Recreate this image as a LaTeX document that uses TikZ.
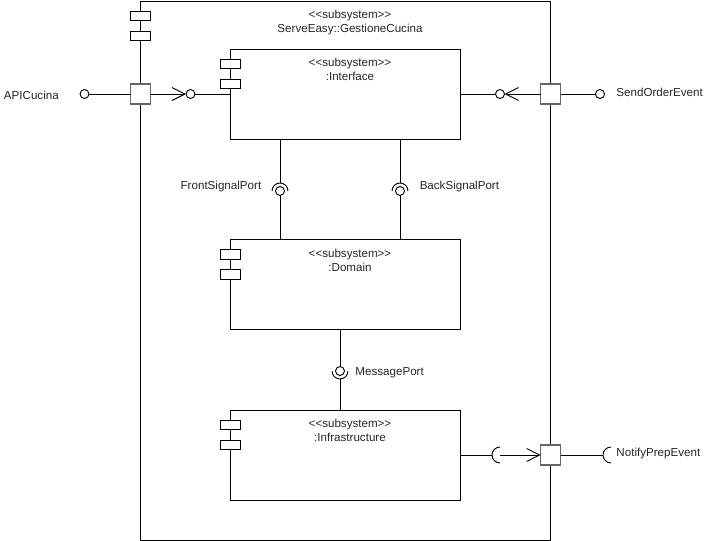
\documentclass[tikz,border=0pt]{standalone}
\usepackage{fontspec}
\setmainfont{Liberation Sans}[Ligatures=TeXOff]
\usetikzlibrary{arrows.meta,calc}
\begin{document}
\begin{tikzpicture}[x=1pt, y=-1pt, line width=0.9pt,
    every node/.style={font=\fontsize{11.6}{14}\selectfont, text=black!85},
    subsys/.style={draw, inner sep=0, outer sep=0, minimum width=230pt, minimum height=90pt},
    icon/.style={draw, fill=white, line width=0.8pt},
    port/.style={draw=black!60, fill=white, line width=1.3pt, inner sep=0, outer sep=0, minimum size=20pt},
    ball/.style={draw, fill=white, circle, inner sep=0, outer sep=0, minimum size=9pt},
    lbl/.style={inner sep=0},
    openarrow/.style={-{Straight Barb[length=13pt, width=13pt]}}]
  \useasboundingbox (0,0) rectangle (705,541);
  \node[draw, inner sep=0, outer sep=0, minimum width=410pt, minimum height=539pt] (outer) at (345.7,270.5) {};
  \node[subsys] (iface) at (345.7,94.3) {};
  \node[subsys] (dom) at (345.7,284.5) {};
  \node[subsys] (infra) at (345.7,455) {};
  \foreach \n/\y/\t in {outer/1/ServeEasy::GestioneCucina, iface/49.3/:Interface, dom/239.5/:Domain, infra/410/:Infrastructure} {
    \node[lbl, anchor=base] (\n-st) at (350,\y+17.5) {<<subsystem>>};
    \node[lbl, anchor=base] (\n-nm) at (350,\y+31.5) {\t};
    \draw[icon] (\n.north west) ++(-10,10) rectangle ++(20,9.5) ++(-20,10.5) rectangle ++(20,9.5);
  }
  \node[ball] (apiball) at (84.5,94) {};
  \node[port] (papi) at (140.7,94) {};
  \node[ball] (ifball) at (190.5,94) {};
  \node[port] (psend) at (550.7,94) {};
  \node[ball] (sndball) at (500,94) {};
  \node[ball] (sndxball) at (600,94) {};
  \node[port] (pnot) at (550.7,455) {};
  \coordinate (nsock) at (500,455);
  \coordinate (nxsock) at (611,455);
  \node[ball] (fsball) at (280,191) {};
  \node[ball] (bsball) at (400,191) {};
  \node[ball] (msball) at (340,371) {};
  \draw (apiball) -- (papi);
  \draw[openarrow] (papi) -- (ifball);
  \draw (ifball) -- (iface.west |- ifball);
  \draw[openarrow] (psend) -- (sndball);
  \draw (sndball) -- (iface.east |- sndball);
  \draw (psend) -- (sndxball);
  \draw (infra.east |- nsock) -- ($(nsock)+(-8,0)$);
  \draw ($(nsock)+(0,8)$) arc (90:270:8);
  \draw[openarrow] (nsock) -- (pnot);
  \draw (pnot) -- ($(nxsock)+(-8,0)$);
  \draw ($(nxsock)+(0,8)$) arc (90:270:8);
  \foreach \b in {fsball, bsball} {
    \draw (iface.south -| \b) -- ($(\b)+(0,-8)$);
    \draw ($(\b)+(8,0)$) arc (0:-180:8);
    \draw (\b) -- (dom.north -| \b);
  }
  \draw (dom.south -| msball) -- (msball);
  \draw ($(msball)+(-8,0)$) arc (180:0:8);
  \draw ($(msball)+(0,8)$) -- (infra.north -| msball);
  \node[lbl, anchor=base west] (apilbl) at (3.5,99.2) {APICucina};
  \node[lbl, anchor=base west] (sndlbl) at (616,96.8) {SendOrderEvent};
  \node[lbl, anchor=base west] (notlbl) at (616,456.3) {NotifyPrepEvent};
  \node[lbl, anchor=base east] (fslbl) at (261.7,189.3) {FrontSignalPort};
  \node[lbl, anchor=base west] (bslbl) at (419.3,189.3) {BackSignalPort};
  \node[lbl, anchor=base west] (mslbl) at (355,375) {MessagePort};
\end{tikzpicture}
\end{document}
